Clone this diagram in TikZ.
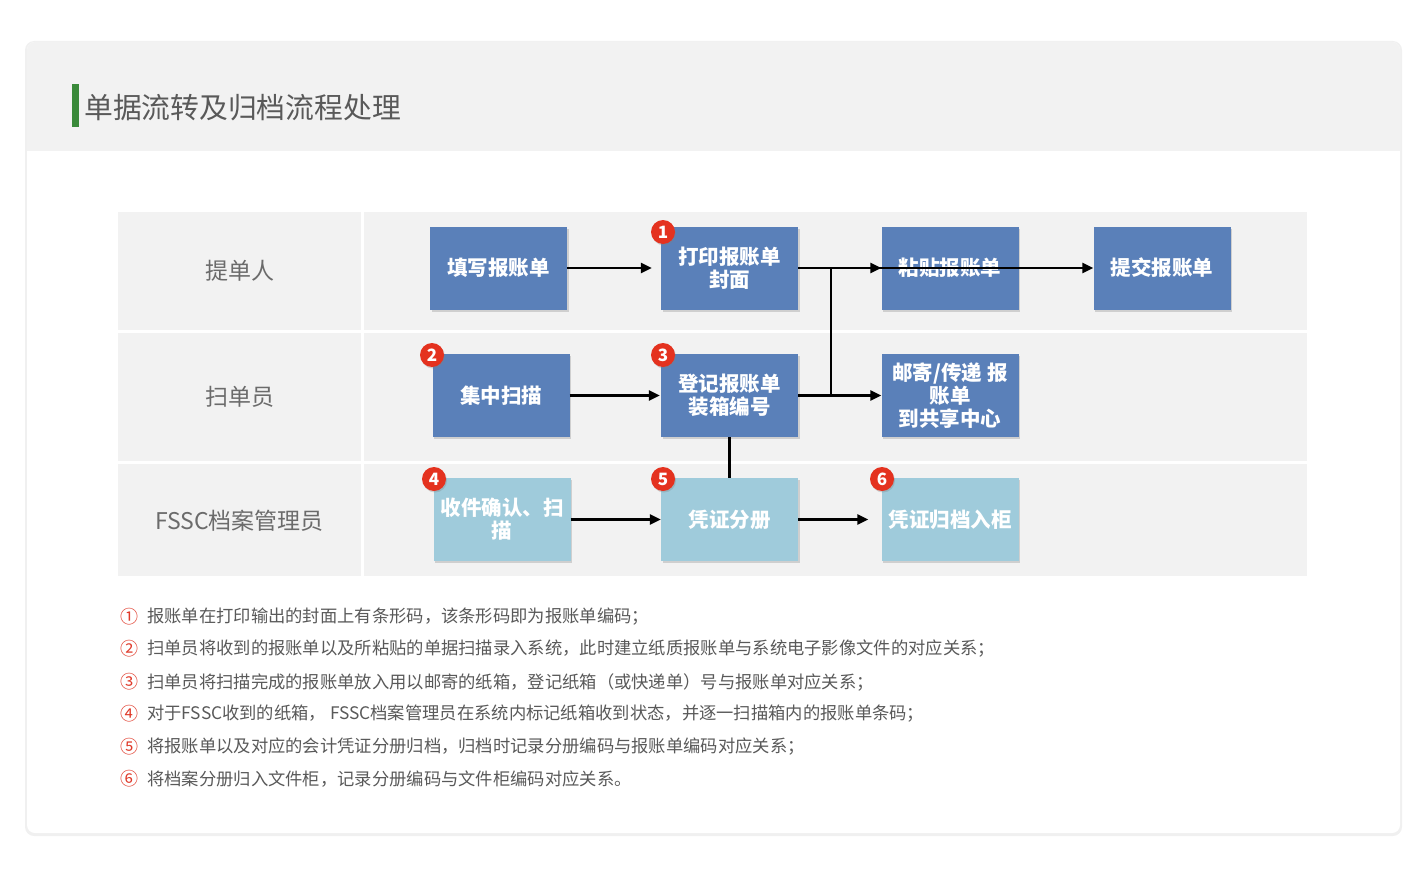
\documentclass[tikz,border=0pt]{standalone}
\usepackage{fontspec}
\setmainfont{Noto Sans CJK SC}
\usetikzlibrary{arrows.meta,shadows,calc}
\definecolor{boxblue}{HTML}{5A80B9}
\definecolor{boxlight}{HTML}{9FCBDB}
\definecolor{rowgray}{HTML}{F2F2F2}
\definecolor{badgered}{HTML}{E4321F}
\definecolor{txtgray}{HTML}{595959}
\definecolor{lblgray}{HTML}{6B6B6B}
\definecolor{titlegreen}{HTML}{3A8A3A}
\definecolor{notered}{HTML}{E03A2A}
\begin{document}
\begin{tikzpicture}[x=1pt,y=-1pt,
  proc/.style={rectangle, fill=boxblue, minimum width=137pt, minimum height=83pt,
    text=white, font=\fontsize{20.5}{23}\selectfont\bfseries, align=center, inner sep=1pt,
    drop shadow={opacity=0.3, shadow xshift=1.5pt, shadow yshift=-2pt}},
  proclight/.style={proc, fill=boxlight},
  badge/.style={circle, fill=badgered, minimum size=24pt, inner sep=0pt, text=white,
    font=\fontsize{17}{17}\selectfont\bfseries,
    drop shadow={opacity=0.3, shadow xshift=1pt, shadow yshift=-1.5pt}},
  arr/.style={line width=2.8pt, -{Triangle[length=11pt,width=10pt]}},
  conn/.style={line width=2.8pt},
  lanecell/.style={fill=rowgray},
  lanelbl/.style={text=lblgray, font=\fontsize{23}{23}\selectfont},
  notenum/.style={anchor=west, text=notered, font=\fontsize{18}{18}\selectfont, inner sep=0pt},
  notetxt/.style={anchor=west, text=txtgray, font=\fontsize{17.3}{18}\selectfont, inner sep=0pt},
]
\useasboundingbox (0,0) rectangle (1425,875);
\fill[white] (0,0) rectangle (1425,875);
% card
\fill[black, opacity=0.06, rounded corners=9pt] (25,41) rectangle (1402,836);
\fill[white, rounded corners=8pt] (27,42) rectangle (1400,833);
\begin{scope}
  \clip[rounded corners=8pt] (27,42) rectangle (1400,833);
  \fill[rowgray] (27,42) rectangle (1400,151);
\end{scope}
% title
\fill[titlegreen] (72,84) rectangle (79,127);
\node[anchor=west, text=txtgray, font=\fontsize{28.8}{29}\selectfont, inner sep=0pt] (title) at (84,108) {单据流转及归档流程处理};
% lanes
\fill[lanecell] (118,212) rectangle (361,330);
\fill[lanecell] (118,333) rectangle (361,461);
\fill[lanecell] (118,464) rectangle (361,576);
\fill[lanecell] (364,212) rectangle (1307,330);
\fill[lanecell] (364,333) rectangle (1307,461);
\fill[lanecell] (364,464) rectangle (1307,576);
\node[lanelbl] (l1) at (239.5,271) {提单人};
\node[lanelbl] (l2) at (239.5,397) {扫单员};
\node[lanelbl] (l3) at (239.5,521) {FSSC档案管理员};
% boxes
\node[proc] (fill) at (498.5,268) {填写报账单};
\node[proc] (print) at (729.5,268) {打印报账单\\封面};
\node[proc] (paste) at (950,268) {粘贴报账单};
\node[proc] (submit) at (1162,268) {提交报账单};
\node[proc] (scan) at (501,395.5) {集中扫描};
\node[proc] (reg) at (729.5,395.5) {登记报账单\\装箱编号};
\node[proc] (mail) at (950,395.5) {邮寄/传递 报\\账单\\到共享中心};
\node[proclight] (recv) at (502,519.5) {收件确认、扫\\描};
\node[proclight] (split) at (729.5,519.5) {凭证分册};
\node[proclight] (file) at (950,519.5) {凭证归档入柜};
% connectors
\coordinate (j1) at (831,268);
\coordinate (j2) at (831,395.5);
\draw[arr, shorten >=9pt] (fill) -- (print);
\draw[arr] (print.east) -- (paste.west);
\draw[conn] (j1) -- (j2);
\draw[arr] (j1) -- (submit.west);
\draw[arr, shorten >=1pt] (scan) -- (reg);
\draw[arr, line width=3.6pt] (reg.east) -- (mail.west);
\draw[conn] (reg.south) -- (split.north);
\draw[arr] (recv) -- (split);
\draw[arr, shorten >=13pt] (split) -- (file);
% badges
\node[badge] (b1) at (663,232) {1};
\node[badge] (b2) at (432,355) {2};
\node[badge] (b3) at (663,355) {3};
\node[badge] (b4) at (434,479) {4};
\node[badge] (b5) at (663,479) {5};
\node[badge] (b6) at (882,479) {6};
% notes
\node[notenum] (n1) at (120,617) {①};
\node[notetxt] (t1) at (147,617) {报账单在打印输出的封面上有条形码，该条形码即为报账单编码；};
\node[notenum] (n2) at (120,649) {②};
\node[notetxt] (t2) at (147,649) {扫单员将收到的报账单以及所粘贴的单据扫描录入系统，此时建立纸质报账单与系统电子影像文件的对应关系；};
\node[notenum] (n3) at (120,682) {③};
\node[notetxt] (t3) at (147,682) {扫单员将扫描完成的报账单放入用以邮寄的纸箱，登记纸箱（或快递单）号与报账单对应关系；};
\node[notenum] (n4) at (120,714) {④};
\node[notetxt] (t4) at (147,714) {对于FSSC收到的纸箱， FSSC档案管理员在系统内标记纸箱收到状态，并逐一扫描箱内的报账单条码；};
\node[notenum] (n5) at (120,747) {⑤};
\node[notetxt] (t5) at (147,747) {将报账单以及对应的会计凭证分册归档，归档时记录分册编码与报账单编码对应关系；};
\node[notenum] (n6) at (120,779) {⑥};
\node[notetxt] (t6) at (147,779) {将档案分册归入文件柜，记录分册编码与文件柜编码对应关系。};
\end{tikzpicture}
\end{document}
